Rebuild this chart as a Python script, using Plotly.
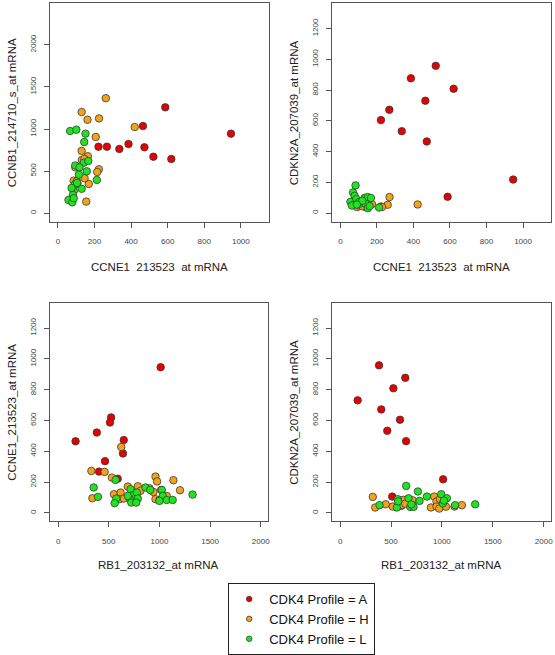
import plotly.graph_objects as go

# ---------------- data ----------------
# Panel 1: CCNE1 (x) vs CCNB1 (y)
p1_A_x = [222, 268, 336, 386, 465, 473, 522, 620, 587, 946]
p1_A_y = [790, 790, 763, 822, 1035, 783, 671, 644, 1257, 945]
p1_H_x = [262, 130, 162, 225, 420, 207, 130, 164, 131, 145, 224, 215, 86, 107, 169, 155, 146, 103, 95]
p1_H_y = [1366, 1201, 1110, 1126, 1024, 906, 740, 677, 632, 645, 522, 490, 387, 356, 348, 138, 415, 380, 545]
p1_L_x = [67, 101, 151, 144, 95, 142, 166, 118, 158, 115, 213, 130, 93, 87, 82, 58, 79, 87, 105, 75]
p1_L_y = [976, 992, 945, 846, 567, 600, 620, 545, 498, 458, 396, 290, 339, 265, 217, 157, 130, 178, 360, 300]

# Panel 2: CCNE1 (x) vs CDKN2A (y)
p2_A_x = [222, 268, 336, 386, 465, 473, 522, 620, 587, 946]
p2_A_y = [605, 672, 533, 877, 731, 466, 958, 809, 106, 218]
p2_H_x = [269, 259, 423, 222, 173, 91, 136, 228, 100, 120, 150]
p2_H_y = [104, 54, 56, 43, 58, 39, 39, 39, 50, 45, 60]
p2_L_x = [83, 69, 78, 55, 87, 133, 150, 167, 63, 105, 138, 150, 212, 100, 120, 90, 160]
p2_L_y = [180, 134, 112, 73, 91, 99, 104, 98, 49, 60, 60, 32, 36, 70, 80, 55, 45]

# Panel 3: RB1 (x) vs CCNE1 (y)
p3_A_x = [588, 404, 463, 640, 172, 648, 382, 523, 512, 1012]
p3_A_y = [222, 268, 336, 386, 465, 473, 522, 620, 587, 946]
p3_H_x = [328, 531, 961, 977, 1138, 1203, 338, 551, 617, 688, 787, 902, 941, 961, 607, 813, 1017, 1072, 649, 1000, 459, 623]
p3_H_y = [272, 229, 236, 204, 212, 147, 95, 121, 132, 171, 173, 160, 136, 89, 89, 143, 149, 110, 93, 84, 266, 428]
p3_L_x = [351, 393, 567, 574, 558, 715, 738, 705, 722, 777, 787, 771, 862, 909, 1023, 1033, 1000, 1072, 1131, 1327, 688]
p3_L_y = [165, 104, 214, 93, 63, 154, 115, 93, 67, 132, 93, 67, 165, 149, 149, 110, 78, 84, 84, 119, 110]

# Panel 4: RB1 (x) vs CDKN2A (y)
p4_A_x = [588, 404, 463, 640, 172, 648, 382, 523, 512, 1012]
p4_A_y = [605, 672, 533, 877, 731, 466, 958, 809, 106, 218]
p4_H_x = [321, 344, 448, 517, 600, 711, 892, 924, 947, 947, 974, 1124, 1196, 607, 620, 640, 980, 1040]
p4_H_y = [104, 35, 56, 41, 45, 82, 35, 106, 74, 41, 28, 41, 50, 52, 85, 60, 90, 40]
p4_L_x = [649, 387, 566, 557, 672, 689, 721, 764, 780, 853, 994, 1049, 1009, 1327, 1020, 700, 1130, 570]
p4_L_y = [175, 50, 89, 35, 95, 39, 39, 139, 78, 106, 121, 95, 61, 56, 80, 55, 50, 75]

profiles = ["A", "H", "L"]
colors = {"A": "#E60000", "H": "#F5A21B", "L": "#1EE61E"}

panels = [
    dict(data={"A": (p1_A_x, p1_A_y), "H": (p1_H_x, p1_H_y), "L": (p1_L_x, p1_L_y)},
         xtitle="CCNE1  213523  at mRNA", ytitle="CCNB1_214710_s_at mRNA",
         xr=[-44, 1154], yr=[-100, 2496], xt=[0, 200, 400, 600, 800, 1000], yt=[0, 500, 1000, 1500, 2000],
         box=(50, 270, 3, 222)),
    dict(data={"A": (p2_A_x, p2_A_y), "H": (p2_H_x, p2_H_y), "L": (p2_L_x, p2_L_y)},
         xtitle="CCNE1  213523  at mRNA", ytitle="CDKN2A_207039_at mRNA",
         xr=[-47, 1153], yr=[-56, 1367], xt=[0, 200, 400, 600, 800, 1000], yt=[0, 200, 400, 600, 800, 1000, 1200],
         box=(333, 553, 3, 222)),
    dict(data={"A": (p3_A_x, p3_A_y), "H": (p3_H_x, p3_H_y), "L": (p3_L_x, p3_L_y)},
         xtitle="RB1_203132_at mRNA", ytitle="CCNE1_213523_at mRNA",
         xr=[-82, 2072], yr=[-54, 1366], xt=[0, 500, 1000, 1500, 2000], yt=[0, 200, 400, 600, 800, 1000, 1200],
         box=(50, 269, 303, 522)),
    dict(data={"A": (p4_A_x, p4_A_y), "H": (p4_H_x, p4_H_y), "L": (p4_L_x, p4_L_y)},
         xtitle="RB1_203132_at mRNA", ytitle="CDKN2A_207039_at mRNA",
         xr=[-82, 2072], yr=[-54, 1366], xt=[0, 500, 1000, 1500, 2000], yt=[0, 200, 400, 600, 800, 1000, 1200],
         box=(333, 553, 303, 522)),
]

W, H = 555, 655
FONT = "Liberation Sans, Arial, sans-serif"
fig = go.Figure()
layout = dict(width=W, height=H, margin=dict(l=0, r=0, t=0, b=0),
              paper_bgcolor="white", plot_bgcolor="white", showlegend=True)
annotations = []

for i, p in enumerate(panels, start=1):
    xa = "x" if i == 1 else f"x{i}"
    ya = "y" if i == 1 else f"y{i}"
    for prof in profiles:
        xs, ys = p["data"][prof]
        fig.add_trace(go.Scatter(
            x=xs, y=ys, mode="markers", xaxis=xa, yaxis=ya, showlegend=False,
            marker=dict(size=7.5, color=colors[prof], line=dict(color="#3a3a3a", width=0.8)),
            hoverinfo="x+y"))
    l, r, t, b = p["box"]
    common = dict(showline=True, mirror=True, linecolor="#555", linewidth=1,
                  ticks="outside", ticklen=5, tickcolor="#555", tickwidth=1,
                  showgrid=False, zeroline=False,
                  tickfont=dict(family=FONT, size=8, color="#444"))
    layout["xaxis" if i == 1 else f"xaxis{i}"] = dict(
        domain=[l / W, r / W], range=p["xr"], tickvals=p["xt"], anchor=ya,
        ticklabelstandoff=7, **common)
    layout["yaxis" if i == 1 else f"yaxis{i}"] = dict(
        domain=[1 - b / H, 1 - t / H], range=p["yr"], tickvals=p["yt"], anchor=xa,
        tickangle=-90, ticklabelstandoff=5, **common)
    cx = (l + r) / 2
    cy = (t + b) / 2
    annotations.append(dict(text=p["xtitle"], x=cx / W, y=1 - 267 / H if i <= 2 else 1 - 566 / H,
                            xref="paper", yref="paper", showarrow=False,
                            xanchor="center", yanchor="middle",
                            font=dict(family=FONT, size=11.5, color="#222")))
    annotations.append(dict(text=p["ytitle"], x=(l - 38) / W, y=1 - cy / H,
                            xref="paper", yref="paper", showarrow=False, textangle=-90,
                            xanchor="center", yanchor="middle",
                            font=dict(family=FONT, size=11.5, color="#222")))

# legend-only traces
for prof in profiles:
    fig.add_trace(go.Scatter(
        x=[None], y=[None], mode="markers", name=f"CDK4 Profile = {prof}",
        marker=dict(size=5.5, color=colors[prof], line=dict(color="#3a3a3a", width=0.8)),
        showlegend=True))

layout["annotations"] = annotations
layout["legend"] = dict(x=229 / W, y=1 - 584 / H, xanchor="left", yanchor="top",
                        bordercolor="#222", borderwidth=1, bgcolor="white",
                        font=dict(family=FONT, size=13, color="#111"),
                        itemwidth=30, tracegroupgap=0)
fig.update_layout(**layout)
fig.write_html("out.html", config={"displayModeBar": False},
               post_script="document.body.style.margin='0';document.body.style.padding='0';")
